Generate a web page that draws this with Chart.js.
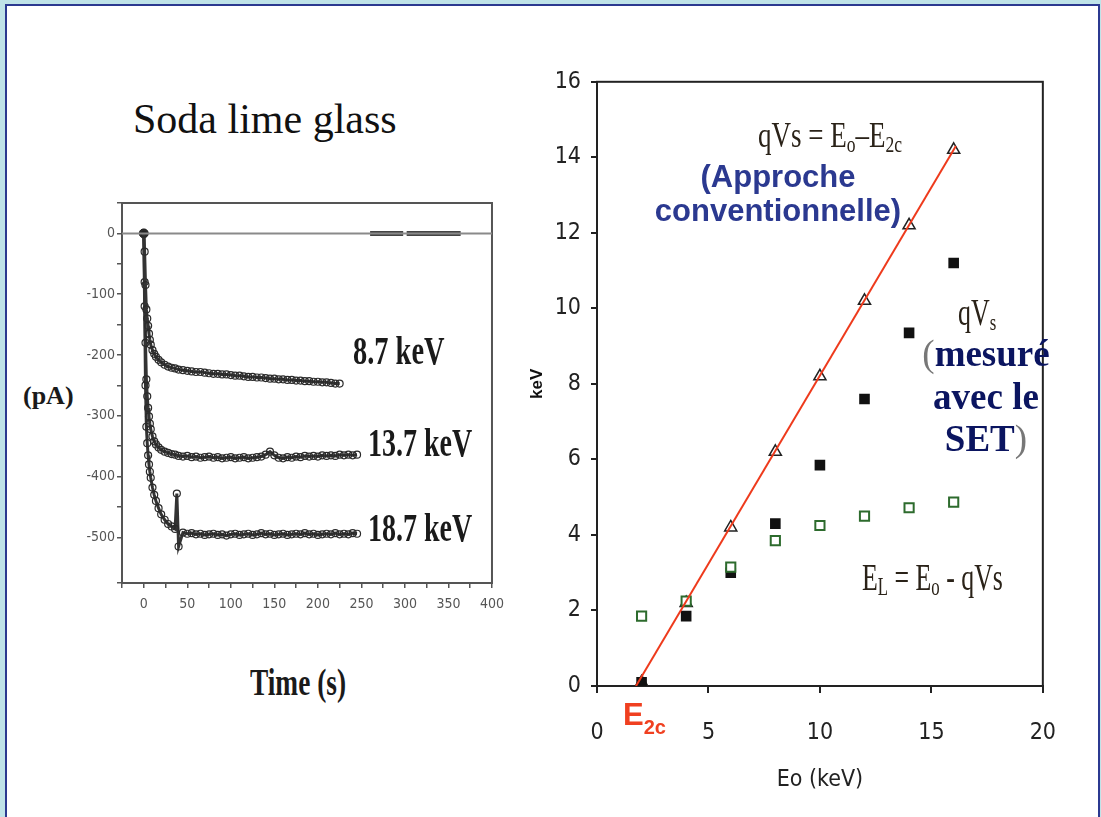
<!DOCTYPE html>
<html>
<head>
<meta charset="utf-8">
<script src="https://cdn.jsdelivr.net/npm/chart.js@4.4.1/dist/chart.umd.min.js"></script>
<style>
  html, body { margin: 0; padding: 0; }
  body { width: 1101px; height: 817px; background: #bfe3e8; position: relative; overflow: hidden; }
  #panel { position: absolute; left: 5px; top: 4px; width: 1091px; height: 830px; background: #fff;
           border: 2px solid #2b3990; border-bottom: none; }
  canvas { position: absolute; }
  #left { left: 80px; top: 190px; }
  #right { left: 520px; top: 58px; }
  .t { position: absolute; white-space: nowrap; line-height: 1; transform-origin: 0 0; }
  .serif { font-family: 'Liberation Serif', 'Times New Roman', serif; }
  .sans { font-family: 'Liberation Sans', Arial, sans-serif; }
  .t sub { font-size: 0.65em; vertical-align: -0.22em; line-height: 0; }
</style>
</head>
<body>
<div id="panel"></div>
<canvas id="left" width="432" height="440"></canvas>
<canvas id="right" width="562" height="752"></canvas>

<div class="t serif" style="left:133px;top:98px;font-size:42px;color:#111;">Soda lime glass</div>
<div class="t serif" style="left:23px;top:383px;font-size:26px;font-weight:bold;color:#1a1a1a;">(pA)</div>
<div class="t serif" style="left:250px;top:663px;font-size:38px;font-weight:bold;color:#1a1a1a;transform:scaleX(0.72);">Time (s)</div>
<div class="t serif" style="left:353px;top:331px;font-size:40px;font-weight:bold;color:#1a1a1a;transform:scaleX(0.71);">8.7 keV</div>
<div class="t serif" style="left:368px;top:423px;font-size:40px;font-weight:bold;color:#1a1a1a;transform:scaleX(0.70);">13.7 keV</div>
<div class="t serif" style="left:368px;top:508px;font-size:40px;font-weight:bold;color:#1a1a1a;transform:scaleX(0.70);">18.7 keV</div>

<div class="t serif" style="left:758px;top:117px;font-size:36px;color:#2a2218;transform:scaleX(0.75);">qVs = E<sub>o</sub>–E<sub>2c</sub></div>
<div class="t sans" style="left:628px;top:160px;width:300px;text-align:center;line-height:34px;font-size:31px;font-weight:bold;color:#2b3990;">(Approche<br>conventionnelle)</div>
<div class="t serif" style="left:958px;top:294px;font-size:37px;color:#2a2218;transform:scaleX(0.7);">qV<sub>s</sub></div>
<div class="t serif" style="left:886px;top:333px;width:200px;text-align:center;line-height:42.5px;font-size:37px;font-weight:bold;color:#0b1560;"><span style="font-weight:normal;color:#777;">(</span>mesuré<br>avec le<br>SET<span style="font-weight:normal;color:#777;">)</span></div>
<div class="t serif" style="left:862px;top:558px;font-size:38px;color:#2a2218;transform:scaleX(0.68);">E<sub>L</sub> = E<sub>o</sub> - qVs</div>
<div class="t sans" style="left:623px;top:699px;font-size:31px;font-weight:bold;color:#f04020;">E<sub style="font-size:20px;vertical-align:-9px;">2c</sub></div>

<script>
// left panel: current vs time for three beam energies
const t87 = [0,1,2,3,4,5,6,7,8,10,12,14,17,20,24,28,32,36,40,
  45,50,55,60,65,70,75,80,85,90,95,100,105,110,115,120,125,130,135,140,
  145,150,155,160,165,170,175,180,185,190,195,200,205,210,215,220,225];
const i87 = [0,-30,-85,-125,-140,-152,-165,-175,-183,-192,-198,-203,-208,-212,-216,-219,-221,-222,-224,
  -225,-226,-227,-228,-228,-229,-230,-231,-231,-232,-232,-233,-234,-234,-235,-236,-236,-237,-237,-238,
  -239,-239,-240,-240,-241,-241,-242,-242,-243,-243,-244,-244,-245,-245,-246,-247,-247];

const t137 = [0,1,2,3,4,5,6,7,8,10,12,14,17,20,24,28,32,36,40,
  45,50,55,60,65,70,75,80,85,90,95,100,105,110,115,120,125,130,135,140,
  145,150,155,160,165,170,175,180,185,190,195,200,205,210,215,220,225,230,235,240,245];
const i137 = [0,-80,-180,-240,-268,-287,-301,-313,-322,-334,-342,-347,-352,-356,-359,-361,-363,-364,-366,
  -367,-366,-368,-367,-369,-368,-367,-369,-368,-370,-369,-368,-370,-369,-368,-370,-369,-368,-367,-364,
  -359,-365,-369,-370,-368,-369,-367,-368,-366,-367,-366,-367,-365,-366,-365,-366,-364,-365,-364,-365,-364];

const t187 = [0,1,2,3,4,5,6,7,8,10,12,14,17,20,24,28,32,36,38,40,
  45,50,55,60,65,70,75,80,85,90,95,100,105,110,115,120,125,130,135,140,
  145,150,155,160,165,170,175,180,185,190,195,200,205,210,215,220,225,230,235,240,245];
const i187 = [0,-120,-250,-318,-345,-365,-380,-392,-402,-418,-430,-440,-452,-462,-471,-478,-482,-486,-428,-515,
  -492,-494,-493,-495,-494,-496,-495,-494,-496,-495,-497,-495,-494,-496,-495,-494,-496,-495,-493,-495,
  -494,-496,-495,-494,-496,-495,-494,-495,-493,-495,-494,-496,-495,-494,-495,-493,-495,-494,-495,-493,-494];

const zeroT = [-25, 400];
const zeroI = [0, 0];
const segT = [260, 298, 300, 302, 364];
const segI = [0, 0, null, 0, 0];
const startT = [0];
const startI = [0];

// right panel: surface potential vs primary energy
const eo = [2, 4, 6, 8, 10, 12, 14, 16];
const qvsConv = [0.1, 2.2, 4.2, 6.2, 8.2, 10.2, 12.2, 14.2];
const qvsSet = [0.1, 1.85, 3.0, 4.3, 5.85, 7.6, 9.35, 11.2];
const eL = [1.85, 2.25, 3.15, 3.85, 4.25, 4.5, 4.72, 4.87];
const fitEo = [1.75, 16.1];
const fitKeV = [0, 14.3];

const NARROW = "'Liberation Sans Narrow', 'DejaVu Sans Condensed', 'Liberation Sans', sans-serif";
const SANS = "'Liberation Sans', Arial, sans-serif";

const pts = (xs, ys) => xs.map((x, i) => ({ x, y: ys[i] }));

const frame = {
  id: 'frame',
  beforeDatasetsDraw(chart, args, opts) {
    const { ctx, chartArea: a } = chart;
    ctx.save();
    ctx.strokeStyle = opts.color;
    ctx.lineWidth = opts.width;
    ctx.strokeRect(a.left, a.top, a.right - a.left, a.bottom - a.top);
    ctx.restore();
  }
};

const curve = (xs, ys) => ({
  data: pts(xs, ys), showLine: true, borderColor: '#333', borderWidth: 3,
  pointRadius: 3.5, pointBorderWidth: 1.2, pointBorderColor: '#2a2a2a', pointBackgroundColor: 'rgba(255,255,255,0)'
});

new Chart(document.getElementById('left'), {
  type: 'scatter',
  data: {
    datasets: [
      { data: pts(zeroT, zeroI), showLine: true, borderColor: '#8a8a8a', borderWidth: 2, pointRadius: 0 },
      { data: pts(segT, segI), showLine: true, spanGaps: false, borderColor: '#444', borderWidth: 5, pointRadius: 0 },
      curve(t87, i87),
      curve(t137, i137),
      curve(t187, i187),
      { data: pts(startT, startI), pointRadius: 4.5, pointBackgroundColor: '#222', pointBorderColor: '#222' }
    ]
  },
  options: {
    responsive: false, animation: false, events: [],
    layout: { padding: { left: 0, top: 13, right: 18, bottom: 17 } },
    plugins: { legend: { display: false }, tooltip: { enabled: false }, frame: { color: '#555', width: 2 } },
    scales: {
      x: {
        type: 'linear', min: -25, max: 400,
        afterFit: s => { s.height = 30; },
        ticks: { stepSize: 25, autoSkip: false, maxRotation: 0, padding: 8, color: '#555',
                 font: { family: NARROW, size: 14 }, callback: v => (v >= 0 && v % 50 === 0) ? v : '' },
        grid: { drawOnChartArea: false, tickLength: 5, color: '#555', lineWidth: 1.5 },
        border: { color: '#555', width: 2 }
      },
      y: {
        min: -575, max: 50,
        afterFit: s => { s.width = 42; },
        ticks: { stepSize: 50, autoSkip: false, padding: 2, color: '#555',
                 font: { family: NARROW, size: 14 }, callback: v => v % 100 === 0 ? v : '' },
        grid: { drawOnChartArea: false, tickLength: 5, color: '#555', lineWidth: 1.5 },
        border: { color: '#555', width: 2 }
      }
    }
  },
  plugins: [frame]
});

new Chart(document.getElementById('right'), {
  type: 'scatter',
  data: {
    datasets: [
      { data: pts(fitEo, fitKeV), showLine: true, borderColor: '#ee3a1c', borderWidth: 2, pointRadius: 0, order: 0 },
      { data: pts(eo, eL), pointStyle: 'rect', pointRadius: 6.5, pointBorderWidth: 2,
        pointBorderColor: '#2d6b2d', pointBackgroundColor: '#fff', order: 1 },
      { data: pts(eo, qvsSet), pointStyle: 'rect', pointRadius: 7.5, pointBorderWidth: 0,
        pointBackgroundColor: '#111', order: 2 },
      { data: pts(eo, qvsConv), pointStyle: 'triangle', pointRadius: 7, pointBorderWidth: 1.5,
        pointBorderColor: '#222', pointBackgroundColor: '#fff', order: 3 }
    ]
  },
  options: {
    responsive: false, animation: false, events: [],
    layout: { padding: { left: 0, top: 13, right: 35, bottom: 14 } },
    plugins: { legend: { display: false }, tooltip: { enabled: false }, frame: { color: '#222', width: 2 } },
    scales: {
      x: {
        min: 0, max: 20,
        afterFit: s => { s.height = 110; },
        ticks: { stepSize: 5, maxRotation: 0, padding: 26, color: '#222', font: { family: NARROW, size: 23 } },
        grid: { drawOnChartArea: false, tickLength: 7, color: '#222', lineWidth: 2 },
        border: { color: '#222', width: 2 },
        title: { display: true, text: 'Eo (keV)', color: '#222', font: { family: NARROW, size: 23 },
                 padding: { top: 0, bottom: 2 } }
      },
      y: {
        min: 0, max: 16,
        afterFit: s => { s.width = 77; },
        ticks: { stepSize: 2, padding: 10, color: '#222', font: { family: NARROW, size: 23 } },
        grid: { drawOnChartArea: false, tickLength: 6, color: '#222', lineWidth: 2 },
        border: { color: '#222', width: 2 },
        title: { display: true, text: 'keV', color: '#111', font: { family: SANS, size: 17, weight: 'bold' },
                 padding: { top: 7, bottom: 0 } }
      }
    }
  },
  plugins: [frame]
});
</script>
</body>
</html>
